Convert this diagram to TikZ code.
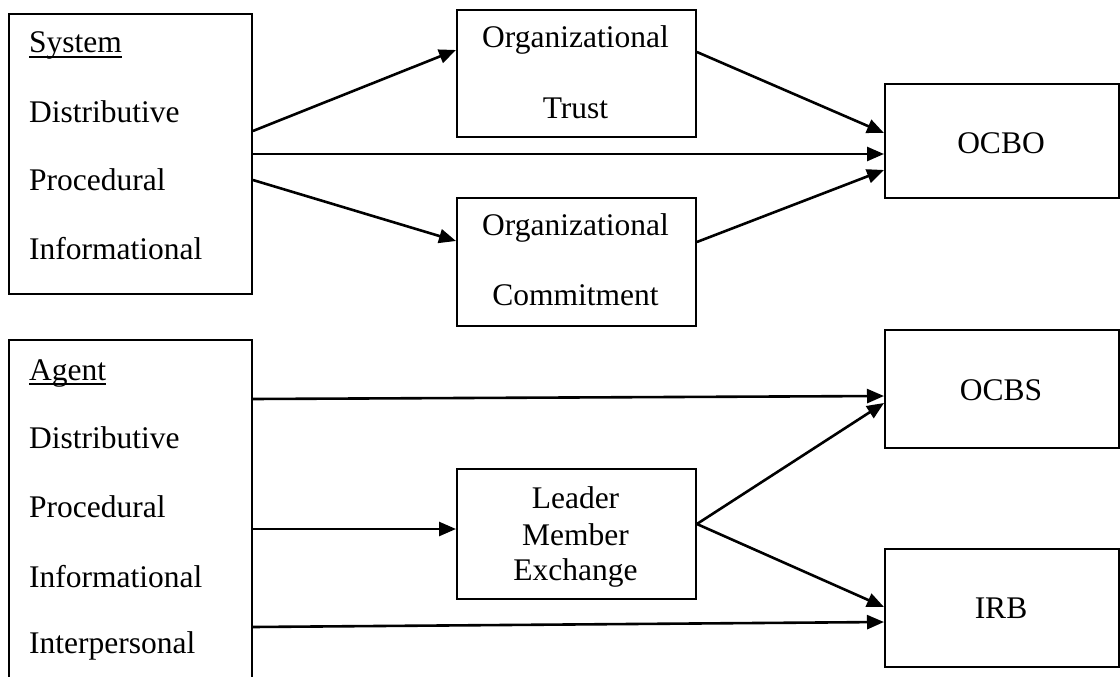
\documentclass[tikz,border=0pt]{standalone}
\usepackage{fontspec}
\setmainfont{Liberation Serif}
\usetikzlibrary{calc,arrows.meta}
\newcommand\myul[1]{\setbox0\hbox{#1}\rlap{\rule[-4.5pt]{\wd0}{1.8pt}}\box0}
\begin{document}
\begin{tikzpicture}[x=1pt,y=-1pt,
  box/.style={draw,line width=1.9pt,rectangle,inner sep=0pt,anchor=north west},
  txt/.style={inner sep=0pt,font=\fontsize{31.5pt}{36pt}\selectfont},
  lt/.style={txt,anchor=base west},
  ct/.style={txt,anchor=base},
  arr/.style={line width=2.6pt,-{Triangle[length=17pt,width=14pt]}}]
\useasboundingbox (0,0) rectangle (1120,677);
\clip (0,0) rectangle (1120,677);
% boxes
\node[box,minimum width=243pt,minimum height=280pt] (sys) at (8,13) {};
\node[box,minimum width=239pt,minimum height=127pt] (trust) at (456,9) {};
\node[box,minimum width=239pt,minimum height=128pt] (commit) at (456,197) {};
\node[box,minimum width=234pt,minimum height=114pt] (ocbo) at (884,83) {};
\node[box,minimum width=243pt,minimum height=361pt] (agent) at (8,339) {};
\node[box,minimum width=234pt,minimum height=118pt] (ocbs) at (884,329) {};
\node[box,minimum width=239pt,minimum height=130pt] (lmx) at (456,468) {};
\node[box,minimum width=234pt,minimum height=118pt] (irb) at (884,548) {};
% texts
\node[lt] (s0) at (29,53) {\myul{System}};
\node[lt] (s1) at (29,122) {Distributive};
\node[lt] (s2) at (29,190) {Procedural};
\node[lt] (s3) at (29,259) {Informational};
\node[lt] (a0) at (29,380) {\myul{Agent}};
\node[lt] (a1) at (29,448) {Distributive};
\node[lt] (a2) at (29,517) {Procedural};
\node[lt] (a3) at (29,587) {Informational};
\node[lt] (a4) at (29,653) {Interpersonal};
\node[ct] (t1) at (575.5,48) {Organizational};
\node[ct] (t2) at (575.5,118) {Trust};
\node[ct] (c1) at (575.5,235) {Organizational};
\node[ct] (c2) at (575.5,305) {Commitment};
\node[ct] (l1) at (575.5,508) {Leader};
\node[ct] (l2) at (575.5,545) {Member};
\node[ct] (l3) at (575.5,580) {Exchange};
\node[ct] (o1) at (1001,153) {OCBO};
\node[ct] (o2) at (1001,400) {OCBS};
\node[ct] (o3) at (1001,618) {IRB};
% connectors
\draw[arr] ($(sys.north east)+(0,118)$) -- ($(trust.north west)+(0,41)$);
\draw[arr] ($(sys.north east)+(0,141)$) -- ($(ocbo.north west)+(0,71)$);
\draw[arr] ($(sys.north east)+(0,167)$) -- ($(commit.north west)+(0,44)$);
\draw[arr] ($(trust.north east)+(0,43)$) -- ($(ocbo.north west)+(0,50)$);
\draw[arr] ($(commit.north east)+(0,45)$) -- ($(ocbo.north west)+(0,87)$);
\draw[arr] ($(agent.north east)+(0,60)$) -- ($(ocbs.north west)+(0,67)$);
\draw[arr] ($(agent.north east)+(0,190)$) -- ($(lmx.north west)+(0,61)$);
\draw[arr] ($(agent.north east)+(0,288)$) -- ($(irb.north west)+(0,74)$);
\draw[arr] ($(lmx.north east)+(0,56)$) -- ($(ocbs.north west)+(0,74)$);
\draw[arr] ($(lmx.north east)+(0,56)$) -- ($(irb.north west)+(0,59)$);
\end{tikzpicture}
\end{document}
